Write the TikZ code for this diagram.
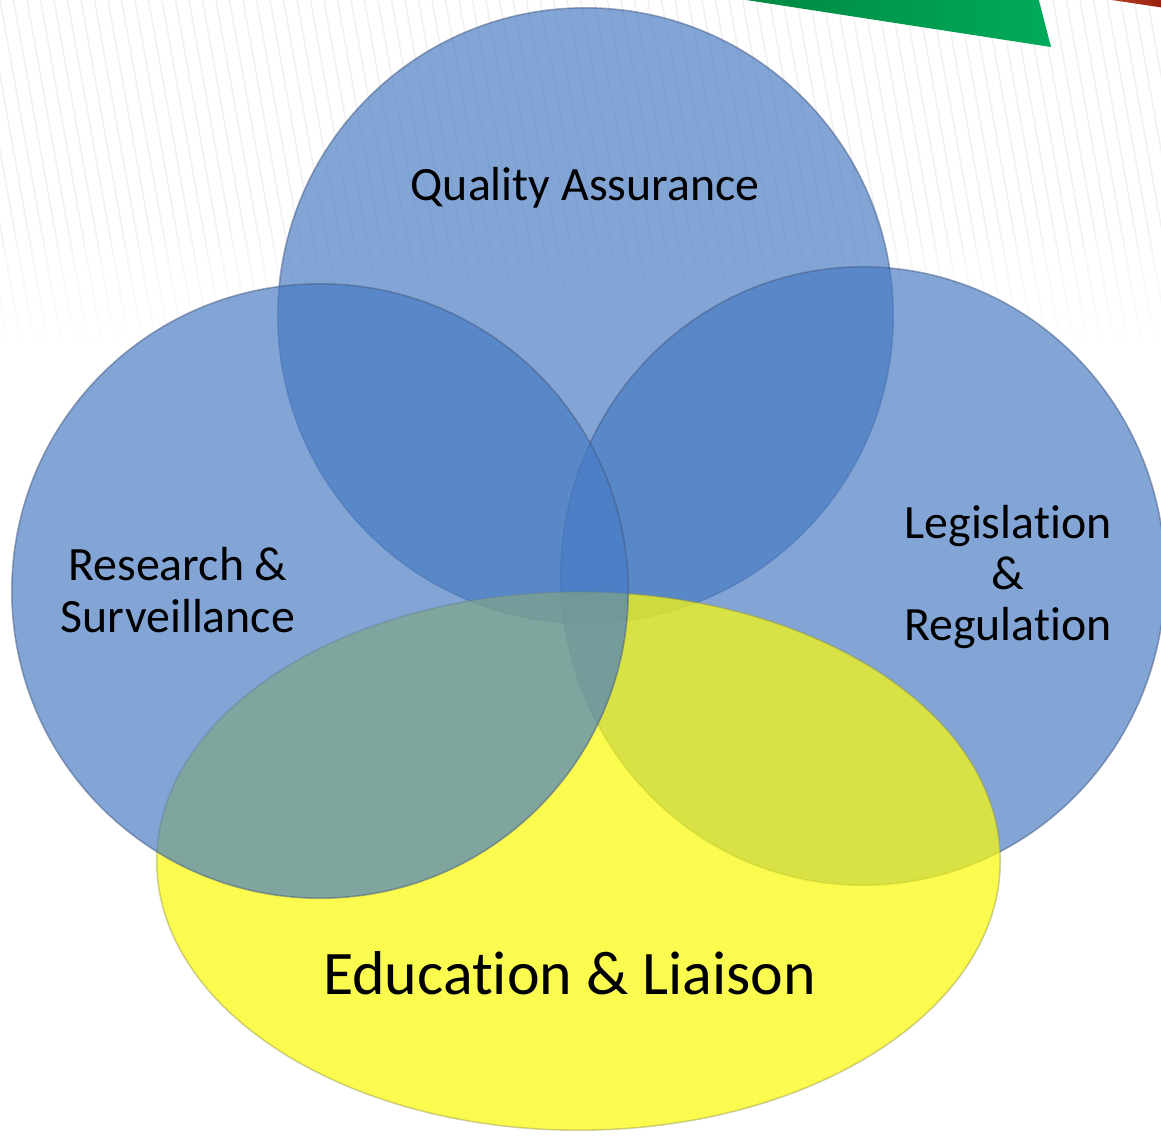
\documentclass[tikz,border=0pt]{standalone}
\usepackage{fontspec}
\setmainfont[Ligatures={NoCommon}]{Carlito}
\usetikzlibrary{fadings}
\definecolor{blueC}{RGB}{71,123,196}
\definecolor{yelC}{RGB}{250,250,12}
\definecolor{hatchC}{RGB}{240,240,240}
\definecolor{edgeB}{RGB}{70,90,130}
\definecolor{edgeY}{RGB}{140,140,60}
\definecolor{greenA}{RGB}{0,135,65}
\definecolor{greenB}{RGB}{0,170,90}
\definecolor{redA}{RGB}{195,75,40}
\definecolor{redB}{RGB}{150,30,15}
\tikzfading[name=fadedown, top color=transparent!100, bottom color=transparent!0]
\begin{document}
\begin{tikzpicture}[x=0.01cm,y=-0.01cm,
  bluecirc/.style={fill=blueC, fill opacity=0.68, draw=edgeB, draw opacity=0.5, line width=0.45pt},
  yellowell/.style={fill=yelC, fill opacity=0.72, draw=edgeY, draw opacity=0.4, line width=0.45pt},
  lbl/.style={font=\fontsize{13.6}{14.6}\selectfont, text=black, align=center, inner sep=0pt},
  biglbl/.style={font=\fontsize{17.6}{21}\selectfont, text=black, inner sep=0pt},
  hatchline/.style={hatchC, line width=0.4pt}]
\useasboundingbox (0,0) rectangle (1161,1135);
\fill[white] (0,0) rectangle (1161,1135);
% background hatching
\foreach \i in {-6,...,86} \draw[hatchline] ({\i*13.5},0) -- ({\i*13.5+62},345);
\fill[white, path fading=fadedown] (-10,215) rectangle (1171,350);
% top decorations
\shade[left color=greenA, right color=greenB] (727,-3) -- (1051,47) -- (1038,-3) -- cycle;
\shade[left color=redA, right color=redB] (1092,-3) -- (1165,8) -- (1165,-3) -- cycle;
% circles
\path[bluecirc] (585.5,315.5) ellipse [x radius=3.075cm, y radius=3.075cm];
\path[bluecirc] (863,576) ellipse [x radius=3.02cm, y radius=3.09cm];
\path[yellowell] (578.5,861) ellipse [x radius=4.215cm, y radius=2.69cm];
\path[bluecirc] (320,591) ellipse [x radius=3.08cm, y radius=3.07cm];
% labels
\node[lbl, anchor=base] (qa) at (585,200) {Quality Assurance};
\node[lbl] (rs) at (178,590) {Research \&\\Surveillance};
\node[lbl] (lr) at (1008,577) {Legislation\\\&\\Regulation};
\node[biglbl, anchor=base] (el) at (569.5,994) {Education \& Liaison};
\end{tikzpicture}
\end{document}
